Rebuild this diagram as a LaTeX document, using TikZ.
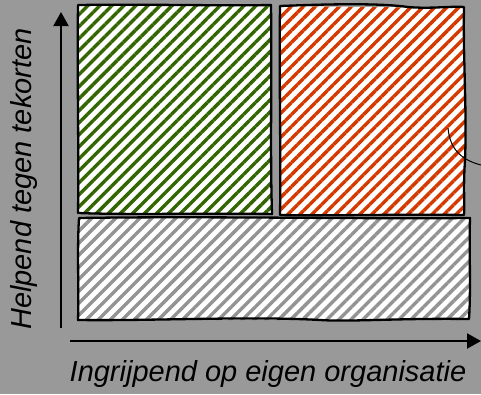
\documentclass[tikz,border=0pt]{standalone}
\usepackage{fontspec}
\setmainfont{Liberation Sans}
\usetikzlibrary{patterns.meta,arrows.meta}
\definecolor{bg}{HTML}{999999}
\definecolor{sgreen}{HTML}{336600}
\definecolor{sred}{HTML}{D43A00}
\definecolor{sgray}{HTML}{939393}
\tikzset{
  boxborder/.style={draw=black, line width=2.3pt, line join=round},
  stripes/.style={pattern={Lines[angle=45,distance=8.5pt,line width=3.4pt]}, pattern color=#1},
  axis/.style={line width=2pt, -{Triangle[length=14pt,width=15pt]}},
  lbl/.style={font=\fontsize{29}{34}\selectfont\itshape, inner sep=0pt}
}
\begin{document}
\begin{tikzpicture}[x=1pt,y=-1pt]
\useasboundingbox (0,0) rectangle (481,394);
\fill[bg] (0,0) rectangle (481,394);
% green box
\path[fill=white] (78,5) -- (271,6) -- (272,214) -- (78,214) -- cycle;
\path[stripes=sgreen] (78,5) -- (271,6) -- (272,214) -- (78,214) -- cycle;
\draw[boxborder] (78,5) .. controls (150,4) and (220,6) .. (271,5)
  .. controls (272,80) and (270,150) .. (272,214)
  .. controls (200,213) and (130,215) .. (78,213)
  .. controls (79,150) and (77,80) .. cycle;
% red box
\path[fill=white] (280,6) -- (465,8) -- (465,215) -- (280,215) -- cycle;
\path[stripes=sred] (280,6) -- (465,8) -- (465,215) -- (280,215) -- cycle;
\draw[boxborder] (280,6) .. controls (330,4) and (380,3) .. (408,7)
  .. controls (430,9) and (450,6) .. (464,7)
  .. controls (463,60) and (467,110) .. (465,160)
  .. controls (463,190) and (465,205) .. (464,215)
  .. controls (400,214) and (330,216) .. (280,215)
  .. controls (281,150) and (279,80) .. cycle;
% gray box
\path[fill=white] (78,218) -- (470,218) -- (470,320) -- (78,320) -- cycle;
\path[stripes=sgray] (78,218) -- (470,218) -- (470,320) -- (78,320) -- cycle;
\draw[boxborder] (79,218) .. controls (200,216) and (350,219) .. (470,218)
  .. controls (469,250) and (471,290) .. (469,319)
  .. controls (400,318) and (350,322) .. (320,320)
  .. controls (250,316) and (150,321) .. (78,320)
  .. controls (79,290) and (77,250) .. cycle;
% curve
\draw[line width=1pt] (448,128) .. controls (450,150) and (462,160) .. (481,165);
% axes
\coordinate (yb) at (61,328);
\coordinate (yt) at (61,12);
\coordinate (xl) at (70,341);
\coordinate (xr) at (481,341);
\draw[axis] (yb) -- (yt);
\draw[axis] (xl) -- (xr);
% labels
\node[lbl, rotate=90] (ylab) at (24,179) {Helpend tegen tekorten};
\node[lbl] (xlab) at (268,374) {Ingrijpend op eigen organisatie};
\end{tikzpicture}
\end{document}
